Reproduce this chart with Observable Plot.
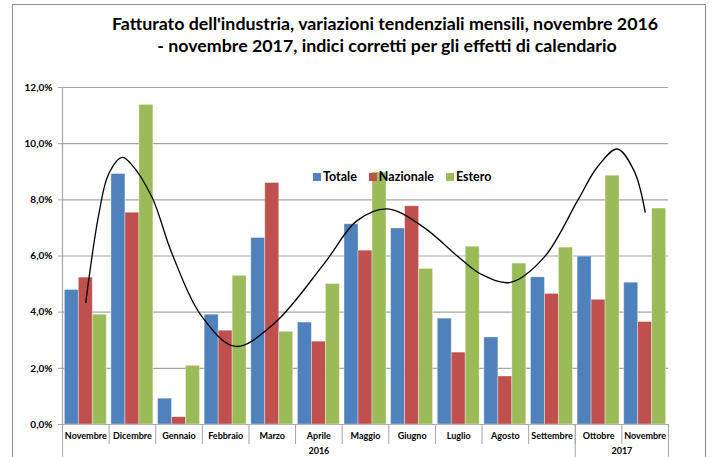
<!DOCTYPE html>
<html>
<head>
<meta charset="utf-8">
<script src="https://cdn.jsdelivr.net/npm/d3@7"></script>
<script src="https://cdn.jsdelivr.net/npm/@observablehq/plot@0.6"></script>
<style>
  html, body { margin: 0; padding: 0; background: #fff; }
  #wrap { position: relative; width: 714px; height: 457px; overflow: hidden; background: #fff; font-family: Lato, "Open Sans", sans-serif; }
  #frame { position: absolute; left: 12px; top: 4px; width: 694px; height: 470px; border: 1px solid #8c8c8c; box-sizing: border-box; }
  .tline { position: absolute; left: 0; width: 714px; text-align: center; font-weight: bold; color: #000; white-space: nowrap; line-height: 1; }
  #chart { position: absolute; left: 0; top: 0; }
  #chart svg text { font-family: Lato, "Open Sans", sans-serif; font-weight: bold; fill: #000; }
  #legend { position: absolute; left: 313px; top: 170px; display: flex; gap: 12px; font-weight: bold; font-size: 12.5px; line-height: 14px; color: #000; }
  #legend .item { display: flex; align-items: center; }
  #legend .sw { width: 8px; height: 8px; margin-right: 2px; }
</style>
</head>
<body>
<div id="wrap">
  <div id="frame"></div>
  <div id="chart"></div>
  <div id="t1" class="tline">Fatturato dell'industria, variazioni tendenziali mensili, novembre 2016</div>
  <div id="t2" class="tline">- novembre 2017, indici corretti per gli effetti di calendario</div>
  <div id="legend"></div>
</div>
<script>
// ---- data ----
const months = ["Novembre","Dicembre","Gennaio","Febbraio","Marzo","Aprile","Maggio","Giugno","Luglio","Agosto","Settembre","Ottobre","Novembre"];
const years = [{label: "2016", from: 0, to: 10}, {label: "2017", from: 11, to: 12}];
const series = ["Totale", "Nazionale", "Estero"];
const colors = ["#4F81BD", "#C0504D", "#9BBB59"];
const totale    = [4.79, 8.92, 0.92, 3.91, 6.64, 3.63, 7.13, 6.98, 3.77, 3.10, 5.24, 5.98, 5.05];
const nazionale = [5.23, 7.54, 0.26, 3.34, 8.60, 2.95, 6.19, 7.77, 2.56, 1.71, 4.65, 4.44, 3.65];
const estero    = [3.91, 11.38, 2.09, 5.29, 3.30, 5.00, 8.97, 5.54, 6.33, 5.73, 6.30, 8.86, 7.69];
// polynomial trend line, x = position in months
const trendPos = [0.0, 0.07, 0.28, 0.49, 0.78, 0.97, 1.42, 1.85, 2.50, 3.21, 4.03, 5.11, 5.82, 6.47, 7.25, 8.04, 8.47, 9.11, 9.83, 10.55, 10.97, 11.40, 11.76, 12.0];
const trendVal = [4.35, 5.24, 7.50, 8.92, 9.51, 9.28, 8.09, 6.08, 3.82, 2.78, 3.58, 5.72, 7.26, 7.68, 7.02, 5.90, 5.36, 5.06, 5.95, 7.97, 9.16, 9.81, 9.04, 7.56];
const yTicks = [0, 2, 4, 6, 8, 10, 12];

// ---- build tables ----
const valuesBySeries = [totale, nazionale, estero];
const barW = 0.3;
const bars = [];
valuesBySeries.forEach((vals, s) => {
  vals.forEach((v, i) => {
    const off = (s - 1) * barW;
    bars.push({series: series[s], i, v, x1: i + off - barW / 2, x2: i + off + barW / 2});
  });
});
const trend = trendPos.map((p, k) => ({p, v: trendVal[k]}));
const monthIdx = months.map((m, i) => i);
const boundaries = months.map((m, i) => i - 0.5).concat([months.length - 0.5]);
const yearEdges = [-0.5].concat(years.map(y => y.to + 0.5));
const yearCenters = years.map(y => (y.from + y.to) / 2);
const yearLabel = new Map(years.map((y, k) => [yearCenters[k], y.label]));

const chart = Plot.plot({
  width: 714,
  height: 457,
  marginTop: 87,
  marginBottom: 33,
  marginLeft: 62,
  marginRight: 46,
  x: {domain: [-0.5, months.length - 0.5], axis: null, label: null},
  y: {domain: [0, 12], axis: null, label: null},
  color: {domain: series, range: colors},
  marks: [
    Plot.gridY(yTicks, {stroke: "#a6a6a6", strokeOpacity: 1, strokeWidth: 1.2}),
    Plot.axisY({ticks: yTicks, label: null, tickSize: 4, tickPadding: 6, stroke: "#a6a6a6", strokeOpacity: 1,
      fontSize: 10, tickFormat: d => d.toFixed(1).replace(".", ",") + "%"}),
    Plot.ruleX([-0.5], {stroke: "#a6a6a6", strokeWidth: 1.2}),
    Plot.rectY(bars, {x1: "x1", x2: "x2", y1: 0, y2: "v", fill: "series", stroke: "#ffffff", strokeOpacity: 0.45, strokeWidth: 0.8}),
    Plot.line(trend, {x: "p", y: "v", curve: "catmull-rom", stroke: "#000", strokeWidth: 1.3}),
    Plot.axisX({ticks: boundaries, label: null, tickSize: 20, stroke: "#a6a6a6", strokeOpacity: 1, tickFormat: () => ""}),
    Plot.axisX({ticks: yearEdges, label: null, tickSize: 34, stroke: "#a6a6a6", strokeOpacity: 1, tickFormat: () => ""}),
    Plot.axisX({ticks: monthIdx, label: null, tickSize: 0, tickPadding: 8, fontSize: 9, tickFormat: i => months[i]}),
    Plot.axisX({ticks: yearCenters, label: null, tickSize: 0, tickPadding: 23, fontSize: 9, tickFormat: d => yearLabel.get(d)})
  ]
});
document.getElementById("chart").appendChild(chart);

// legend
const legend = document.getElementById("legend");
series.forEach((s, k) => {
  const it = document.createElement("div");
  it.className = "item";
  const sw = document.createElement("span");
  sw.className = "sw";
  sw.style.background = colors[k];
  const tx = document.createElement("span");
  tx.textContent = s;
  it.appendChild(sw); it.appendChild(tx);
  legend.appendChild(it);
});

// title sizing: fit line 1 to ~547px
const t1 = document.getElementById("t1"), t2 = document.getElementById("t2");
const ctx = document.createElement("canvas").getContext("2d");
ctx.font = "bold 17px Lato";
const w = ctx.measureText(t1.textContent).width;
const fs = 17 * 547 / w;
[t1, t2].forEach(t => { t.style.fontSize = fs + "px"; });
t1.style.left = "28px"; t2.style.left = "30px";
t1.style.top = (31 - fs * 0.9) + "px";
t2.style.top = (53 - fs * 0.9) + "px";
</script>
</body>
</html>
